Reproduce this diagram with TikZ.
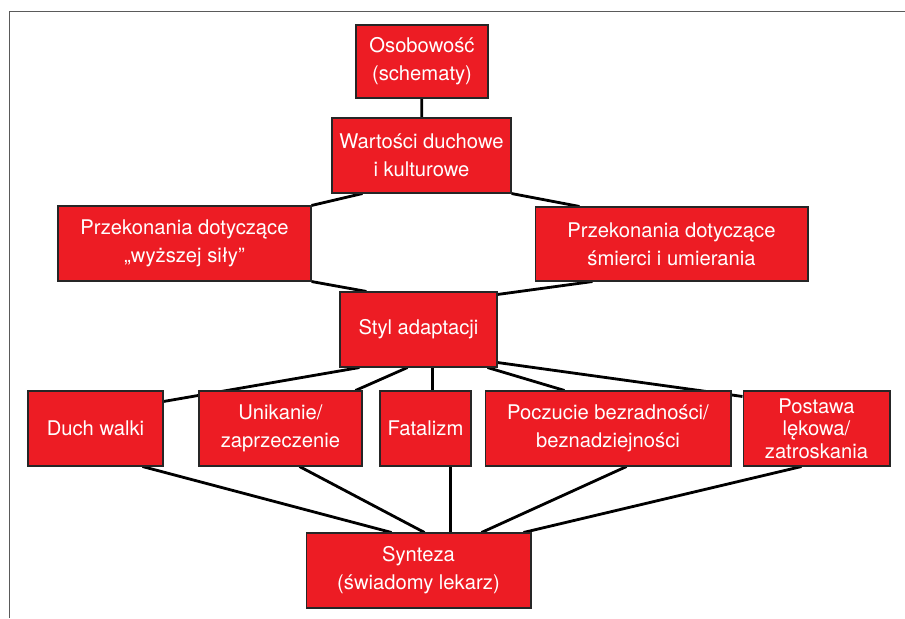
\documentclass[tikz,border=0pt]{standalone}
\usepackage{fontspec}
\setmainfont{TeX Gyre Heros}
\usepackage{tikz}
\usetikzlibrary{calc,backgrounds,positioning}
\definecolor{myred}{RGB}{237,28,36}
\definecolor{myframe}{RGB}{90,90,90}
\tikzstyle{box}=[draw=black!85,fill=myred,text=white,line width=0.6pt,align=center,inner sep=0pt,minimum height=1.5cm,font=\fontsize{11.5}{16}\selectfont]
\tikzstyle{link}=[line width=1.6pt]

\begin{document}
\begin{tikzpicture}[x=0.02cm,y=-0.02cm]
\useasboundingbox (0,0) rectangle (905,618);
\draw[myframe] (9,618) -- (9,11) -- (905,11);
% upper part
\draw (422,61.5) node [box, minimum width=2.64cm, minimum height=1.46cm] (oso) {Osobowość\\(schematy)};
\draw (421.5,155.5) node [box, minimum width=3.58cm] (wart) {Wartości duchowe\\i kulturowe};
\draw (184.5,243.5) node [box, minimum width=5.06cm] (przL) {Przekonania dotyczące\\„wyższej siły”};
\draw (671.5,244) node [box, minimum width=5.46cm, minimum height=1.48cm] (przR) {Przekonania dotyczące\\śmierci i umierania};
\draw (418.5,329.5) node [box, minimum width=3.14cm] (styl) {Styl adaptacji};
% styles of adaptation
\draw (95.5,428.5) node [box, minimum width=2.7cm] (duch) {Duch walki};
\draw (280.5,428.5) node [box, minimum width=3.26cm] (unik) {Unikanie/\\zaprzeczenie};
\draw (425.5,428.5) node [box, minimum width=1.82cm] (fat) {Fatalizm};
\draw (608,428.5) node [box, minimum width=4.92cm] (pocz) {Poczucie bezradności/\\beznadziejności};
\draw (816.5,428.5) node [box, minimum width=2.94cm, font=\fontsize{11.5}{12.8}\selectfont] (post) {Postawa\\lękowa/\\zatroskania};
\draw (418.5,570.5) node [box, minimum width=4.5cm] (synt) {Synteza\\(świadomy lekarz)};
% connectors
\begin{pgfonlayer}{background}
\draw[link] (oso) -- (wart);
\draw[link] ($(wart.south west)+(31,0)$) -- (przL.north east);
\draw[link] (wart.south east) -- ($(przR.north west)+(45,0)$);
\draw[link] (przL.south east) -- ($(styl.north west)+(27,0)$);
\draw[link] ($(styl.north east)+(0,3)$) -- ($(przR.south west)+(58,0)$);
\draw[link] ($(styl.south west)+(20,0)$) -- ($(duch.north east)+(0,11)$);
\draw[link] ($(styl.south west)+(68,0)$) -- ($(unik.north east)+(-7,0)$);
\draw[link] ($(styl.south west)+(93,0)$) -- ($(fat.north west)+(53,0)$);
\draw[link] ($(styl.south east)+(-10,0)$) -- ($(pocz.north west)+(80,0)$);
\draw[link] ($(styl.south east)+(0,-5)$) -- ($(post.north west)+(0,6)$);
\draw[link] ($(duch.south west)+(115,0)$) -- ($(synt.north west)+(86,0)$);
\draw[link] ($(unik.south west)+(101,0)$) -- ($(synt.north west)+(119,0)$);
\draw[link] ($(fat.south west)+(71,0)$) -- ($(synt.north west)+(145,0)$);
\draw[link] ($(pocz.south west)+(142,0)$) -- ($(synt.north west)+(176,0)$);
\draw[link] ($(post.south west)+(59,0)$) -- ($(synt.north east)+(-8,0)$);
\end{pgfonlayer}
\end{tikzpicture}
\end{document}
